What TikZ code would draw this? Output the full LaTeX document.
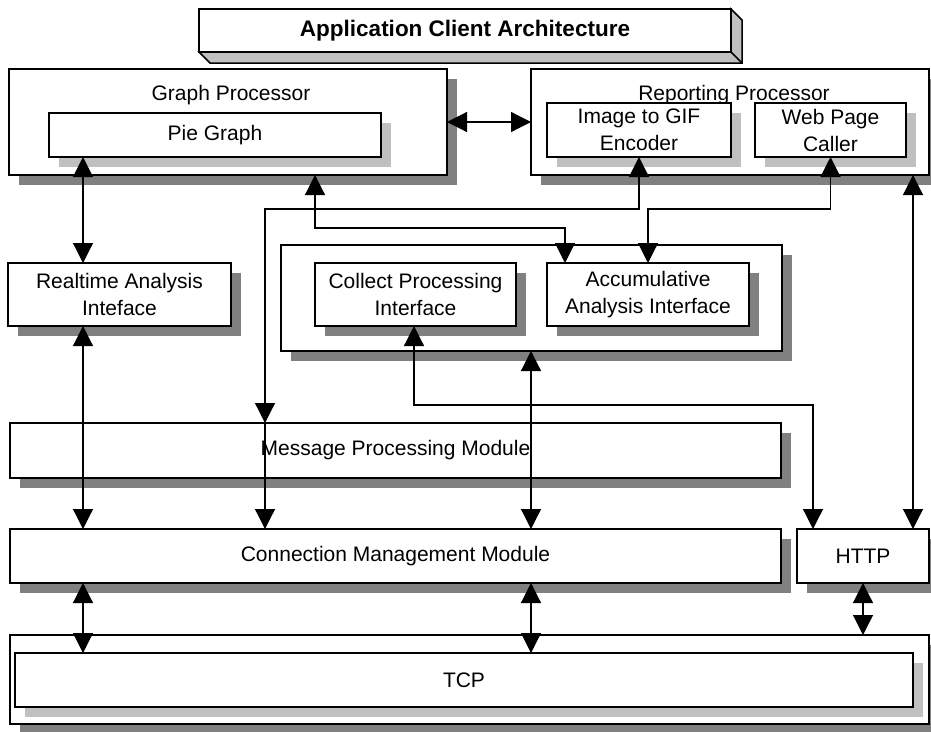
\documentclass[tikz,border=0pt]{standalone}
\usepackage{fontspec}
\setmainfont{Liberation Sans}
\usetikzlibrary{arrows.meta,shadows}
\definecolor{shadowdark}{HTML}{808080}
\definecolor{shadowlight}{HTML}{C0C0C0}
\newcommand{\boxfont}{\fontsize{21}{27}\selectfont}
\newcommand{\headfont}{\fontsize{22.5}{27}\selectfont\bfseries}

\begin{document}
\begin{tikzpicture}[x=1pt, y=-1pt,
                    >={Triangle[length=20pt,width=20pt]},
                    line width=1.2pt,
                    ]
    \tikzstyle{block}=[draw, fill=white, line width=1.5pt, inner sep=0pt, outer sep=0pt, align=center, font=\boxfont]
    \tikzstyle{darkblock}=[block, drop shadow={shadow xshift=10pt, shadow yshift=-10pt, fill=shadowdark, opacity=1}]
    \tikzstyle{lightblock}=[block, drop shadow={shadow xshift=10pt, shadow yshift=-10pt, fill=shadowlight, opacity=1}]
    \tikzstyle{caption}=[font=\boxfont, anchor=base, inner sep=0pt]
    \tikzstyle{link}=[draw, <->]

    \useasboundingbox (0,0) rectangle (931,731);

    % title
    \node[block, font=\headfont, minimum width=532pt, minimum height=43pt] (title) at (465,30.5) {Application Client Architecture};
    \path[draw, fill=shadowlight, line width=1.5pt] (title.south west) -- ++(11,11) -- ++(532,0) -- ++(0,-43) -- (title.north east) -- (title.south east) -- cycle;
    \path[draw, line width=1.5pt] (title.south east) -- ++(11,11);

    % processors
    \node[darkblock, minimum width=438pt, minimum height=106pt] (gp) at (228,122) {};
    \node[caption] (gpname) at (231,100) {Graph Processor};
    \node[lightblock, minimum width=332pt, minimum height=44pt] (pie) at (215,135) {Pie Graph};

    \node[darkblock, minimum width=398pt, minimum height=106pt] (rp) at (730,122) {};
    \node[caption] (rpname) at (734,100) {Reporting Processor};
    \node[lightblock, minimum width=184pt, minimum height=54pt] (enc) at (639,130) {Image to GIF\\Encoder};
    \node[lightblock, minimum width=151pt, minimum height=54pt] (web) at (830.5,130) {Web Page\\Caller};

    % interfaces
    \node[darkblock, minimum width=223pt, minimum height=63pt] (rai) at (119.5,294.5) {Realtime Analysis\\Inteface};
    \node[darkblock, minimum width=501pt, minimum height=106pt] (grp) at (531.5,298) {};
    \node[darkblock, minimum width=201pt, minimum height=63pt] (cpi) at (415.5,294.5) {Collect Processing\\Interface};
    \node[darkblock, minimum width=202pt, minimum height=63pt] (aai) at (648,294.5) {Accumulative\\Analysis Interface};

    % modules
    \node[darkblock, minimum width=771pt, minimum height=55pt] (mpm) at (395.5,450.5) {Message Processing Module};
    \node[darkblock, minimum width=771pt, minimum height=54pt] (cmm) at (395.5,556) {Connection Management Module};
    \node[darkblock, minimum width=132pt, minimum height=54pt] (http) at (863,556) {HTTP};
    \node[darkblock, minimum width=919pt, minimum height=89pt] (tcpbox) at (469.5,679.5) {};
    \node[lightblock, minimum width=898pt, minimum height=54pt] (tcp) at (464,680) {TCP};

    \coordinate (colA) at (83,0);
    \coordinate (colH) at (531,0);
    \coordinate (colK) at (913,0);
    \coordinate (encbend) at (265,209);
    \coordinate (webbend) at (648,209);
    \coordinate (gpbend) at (315,228);
    \coordinate (aaiin) at (565,0);
    \coordinate (cpibend) at (414,405);
    \coordinate (httpin) at (813,0);

    \path[link] (gp.east) -- (rp.west);
    \path[link] (pie.south -| colA) -- (rai.north -| colA);
    \path[link] (rai.south -| colA) -- (cmm.north -| colA);
    \path[link] (enc.south) |- (encbend) -- (mpm.north -| encbend);
    \path[draw, ->] (mpm.north -| encbend) -- (cmm.north -| encbend);
    \path[link] (web.south) |- (webbend) -- (aai.north -| webbend);
    \path[link] (gp.south -| gpbend) -- (gpbend) -| (aai.north -| aaiin);
    \path[link] (grp.south -| colH) -- (cmm.north -| colH);
    \path[link] (cpi.south -| cpibend) -- (cpibend) -| (http.north -| httpin);
    \path[link] (rp.south -| colK) -- (http.north -| colK);
    \path[link] (cmm.south -| colA) -- (tcp.north -| colA);
    \path[link] (cmm.south -| colH) -- (tcp.north -| colH);
    \path[link] (http.south) -- (tcpbox.north -| http.south);
\end{tikzpicture}
\end{document}
